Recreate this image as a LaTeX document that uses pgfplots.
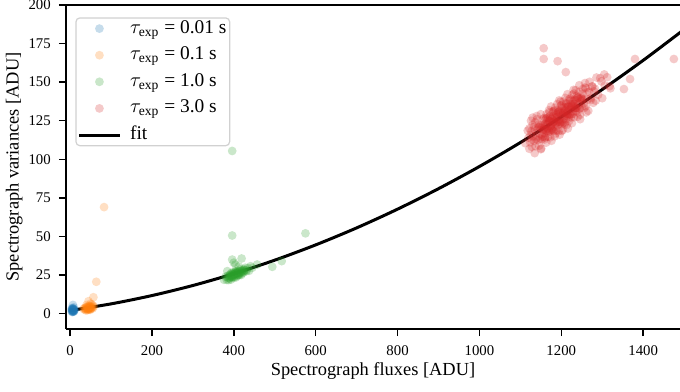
\documentclass[border=0pt]{standalone}
\usepackage{amsmath}
\usepackage{fontspec}
\setmainfont{Liberation Serif}
\usepackage{pgfplots}
\pgfplotsset{compat=1.18}
\definecolor{C0}{HTML}{1F77B4}
\definecolor{C1}{HTML}{FF7F0E}
\definecolor{C2}{HTML}{2CA02C}
\definecolor{C3}{HTML}{D62728}
\pgfplotsset{
  scat/.style={only marks, mark=*, mark size=2.2pt, color=#1,
    mark options={solid, fill=#1, draw=#1, draw opacity=0, fill opacity=0.25}},
}
\begin{document}
\begin{tikzpicture}
\begin{axis}[
  scale only axis,
  width=307pt, height=162pt,
  xmin=-10, xmax=1490, ymin=-10, ymax=200,
  axis x line=box, axis y line=left,
  axis line style={-, black, line width=0.6pt},
  xtick pos=left, ytick pos=left,
  tick align=outside,
  major tick length=3.6pt,
  major tick style={black, line width=0.7pt},
  xtick={0,200,400,600,800,1000,1200,1400},
  ytick={0,25,50,75,100,125,150,175,200},
  /pgf/number format/assume math mode=true,
  /pgf/number format/1000 sep={},
  tick label style={font=\fontsize{7.4}{9}\selectfont},
  xticklabel style={yshift=-1pt},
  yticklabel style={xshift=-0.5pt},
  xlabel={Spectrograph fluxes [ADU]},
  ylabel={Spectrograph variances [ADU]},
  label style={font=\fontsize{9.2}{11}\selectfont},
  xlabel style={at={(axis description cs:0.5,-0.131)}, anchor=center},
  ylabel style={at={(axis description cs:-0.0845,0.5)}, anchor=center},
  legend image code/.code={\draw[mark repeat=2,mark phase=2,#1] plot coordinates {(0pt,0pt) (10pt,0pt) (20pt,0pt)};},
  legend cell align=left,
  legend style={at={(axis description cs:0.0152,0.962)}, anchor=north west,
    draw=black!18, line width=0.6pt, rounded corners=2pt, fill=white, fill opacity=0.8, text opacity=1,
    font=\fontsize{9.7}{11}\selectfont,
    inner xsep=1pt, inner ysep=0pt, row sep=2.6pt,
    nodes={inner sep=0.6pt, text height=7pt, text depth=2.5pt},
    /tikz/every odd column/.append style={column sep=4pt}},
]
% tau = 0.01 s
\addplot[scat=C0] coordinates {
(4,1.5) (5,2.2) (6,1.2) (6,2.8) (7,1.8) (7,2.5) (8,1.4) (8,3.2) (9,2.0) (10,1.7)
(5,3.6) (9,4.0) (6,2.0) (7,3.0) (8,2.2) (5,1.0) (10,2.6) (7,1.1) (6,3.4) (9,1.3)
(8,2.7) (7,2.1) (6,1.6) (5,2.6) (11,2.3) (4,2.9) (7,5.6)
};
\addlegendentry{$\tau_{\text{exp}}$ = 0.01 s}
% tau = 0.1 s
\addplot[scat=C1] coordinates {
(33,3.0) (36,2.5) (38,3.8) (40,2.8) (41,4.2) (42,3.3) (43,2.2) (44,3.9) (45,3.1) (46,4.5)
(47,2.7) (48,3.6) (49,4.1) (50,3.0) (51,4.8) (52,3.4) (54,4.0) (56,5.2) (58,4.4) (45,8.0)
(50,6.5) (57,10.6) (64,20.6) (83,69.0) (40,5.5) (53,6.0) (39,2.0) (44,2.6) (47,3.5) (42,4.6)
(37,3.2) (49,2.4) (46,3.4) (55,3.3) (43,3.0) (51,3.9) (35,3.6) (48,5.0)
};
\addlegendentry{$\tau_{\text{exp}}$ = 0.1 s}
% tau = 1.0 s
\addplot[scat=C2] coordinates {
(376,21.9) (380,23.9) (383,21.8) (385,23.5) (387,21.7) (389,24.5) (390,23.1) (392,25.8) (393,22.0) (394,24.6)
(395,25.2) (396,23.3) (397,24.4) (398,26.1) (399,23.7) (400,25.3) (401,23.4) (402,26.0) (403,24.7) (404,27.3)
(405,23.4) (406,26.0) (407,26.6) (408,24.8) (409,25.9) (410,27.5) (411,25.1) (412,26.7) (413,24.9) (414,27.5)
(415,26.1) (416,28.7) (418,25.0) (420,27.7) (422,28.4) (424,26.7) (426,27.9) (428,29.7) (431,27.5) (434,29.4)
(437,27.7) (441,30.7) (445,29.7)
(385,24.5) (390,25.0) (395,23.8) (400,26.8) (405,25.9) (410,24.6) (415,27.4) (420,26.0) (425,28.6) (430,28.0)
(395,26.5) (405,27.2) (388,22.8) (392,24.0) (398,24.9) (403,25.6) (408,26.4) (413,26.0) (418,27.0) (423,27.3)
(396,105.4) (396,50.6) (575,52.0) (396,35.0) (419,35.7) (404,31.8) (457,31.8) (494,30.3) (517,34.0) (400,33.0)
(384,27.5) (412,30.5)
};
\addlegendentry{$\tau_{\text{exp}}$ = 1.0 s}
% tau = 3.0 s
\addplot[scat=C3] coordinates {
(1112,110.4) (1118,118.6) (1122,106.8) (1125,115.8) (1128,108.0) (1130,122.4) (1133,111.8) (1135,119.2) (1137,108.4) (1139,117.2)
(1141,126.0) (1143,112.4) (1145,122.6) (1146,108.8) (1148,116.2) (1150,129.2) (1151,107.0) (1153,121.4) (1154,114.6) (1156,126.2)
(1157,119.4) (1159,126.8) (1160,114.4) (1161,123.0) (1163,110.8) (1164,129.2) (1165,118.2) (1166,125.4) (1168,114.6) (1169,123.2)
(1170,131.8) (1171,118.0) (1172,128.0) (1173,114.2) (1174,121.4) (1175,134.2) (1176,112.0) (1177,126.2) (1178,119.4) (1179,130.8)
(1180,124.0) (1181,131.2) (1182,118.8) (1183,127.4) (1184,115.0) (1185,133.4) (1186,122.4) (1187,129.6) (1188,118.6) (1189,127.2)
(1190,135.8) (1191,122.0) (1192,132.0) (1193,118.2) (1194,125.4) (1195,138.2) (1196,116.0) (1197,130.2) (1198,123.4) (1199,134.8)
(1200,128.0) (1201,135.2) (1202,122.8) (1203,131.4) (1204,119.0) (1205,137.4) (1206,126.4) (1207,133.6) (1208,122.6) (1209,131.2)
(1210,139.8) (1211,126.0) (1212,136.0) (1213,122.2) (1214,129.4) (1215,142.2) (1216,120.0) (1217,134.2) (1218,127.4) (1219,138.8)
(1220,132.0) (1222,139.4) (1223,127.0) (1224,135.6) (1226,123.4) (1227,141.8) (1228,130.8) (1230,138.2) (1231,127.2) (1233,136.0)
(1235,144.8) (1236,131.0) (1238,141.2) (1240,127.6) (1242,135.0) (1244,148.0) (1246,126.0) (1248,140.4) (1250,133.8) (1253,145.6)
(1255,139.0) (1258,146.6) (1260,134.4) (1263,143.4) (1266,131.4) (1269,150.2) (1272,139.6) (1275,147.2) (1278,136.6) (1282,145.8)
(1286,153.0) (1290,141.8) (1295,152.6) (1300,139.6) (1306,147.8) (1312,153.2) (1318,147.4)
(1150,122.2) (1153,115.8) (1156,119.2) (1159,112.8) (1162,126.0) (1165,122.4) (1168,117.4) (1171,130.6) (1174,121.4) (1177,126.2)
(1180,118.4) (1183,131.6) (1186,116.8) (1189,125.8) (1192,130.6) (1195,124.2) (1198,137.4) (1201,118.4) (1204,130.2) (1207,128.0)
(1210,134.2) (1213,127.8) (1216,131.2) (1219,124.8) (1222,138.0) (1225,134.4) (1228,129.4) (1231,142.6) (1234,133.4) (1237,138.2)
(1240,130.4) (1243,143.6) (1246,128.8) (1249,137.8) (1252,142.6) (1255,136.2) (1258,149.4) (1261,130.4)
(1140,114.0) (1144,120.8) (1148,113.6) (1152,120.4) (1156,119.2) (1160,114.0) (1164,126.8) (1168,119.6) (1172,124.4) (1176,119.2)
(1180,128.0) (1184,124.8) (1188,123.6) (1192,130.4) (1196,123.2) (1200,130.0) (1204,128.8) (1208,123.6) (1212,136.4) (1216,129.2)
(1220,134.0) (1224,128.8) (1228,137.6) (1232,134.4) (1236,133.2) (1240,140.0) (1244,132.8) (1248,139.6) (1252,138.4) (1256,133.2)
(1260,146.0) (1264,138.8) (1268,143.6) (1272,138.4) (1276,147.2) (1280,144.0)
(1160,121.0) (1165,120.0) (1170,125.0) (1175,120.0) (1180,124.0) (1185,127.0) (1190,124.0) (1195,131.0) (1200,124.0) (1205,130.0)
(1210,129.0) (1215,134.0) (1220,129.0) (1225,133.0) (1230,136.0) (1235,133.0) (1240,140.0) (1245,133.0) (1250,139.0)
(1165,123.0) (1169,118.8) (1173,126.6) (1177,122.4) (1181,124.2) (1185,121.0) (1189,128.8) (1193,127.6) (1197,125.4) (1201,133.2)
(1205,124.0) (1209,131.8) (1213,130.6) (1217,134.4) (1221,129.2) (1225,134.0) (1229,132.8) (1233,138.6) (1237,133.4) (1241,136.2)
(1245,139.0)
(1120,114.0) (1124,111.0) (1127,118.0) (1131,115.0) (1134,121.0) (1138,113.0) (1142,119.0) (1147,121.0) (1152,113.0) (1155,122.0)
(1158,117.0) (1162,119.0) (1167,127.0) (1171,125.0) (1122,120.0) (1126,125.0) (1130,127.0) (1128,113.0) (1136,124.0) (1140,128.0)
(1150,106.5) (1157,172.0) (1157,165.0) (1191,163.6) (1211,156.5) (1380,165.0) (1475,165.0) (1368,152.0) (1353,145.5) (1298,150.5)
(1305,155.0) (1320,146.0) (1135,104.0) (1284,138.0) (1230,145.0)
};
\addlegendentry{$\tau_{\text{exp}}$ = 3.0 s}
% fit
\addplot[black, line width=1.5pt, smooth] coordinates {
(0,2.00) (100,6.28) (200,11.68) (300,18.20) (400,25.85) (500,34.62) (600,44.52) (700,55.53)
(800,67.68) (900,80.94) (1000,95.33) (1100,110.84) (1200,127.48) (1300,145.24) (1400,164.12) (1500,184.13)
};
\addlegendentry{fit}
\end{axis}
\pgfresetboundingbox
\path[use as bounding box] (-33pt,-31pt) rectangle (307pt,164.5pt);
\end{tikzpicture}
\end{document}
